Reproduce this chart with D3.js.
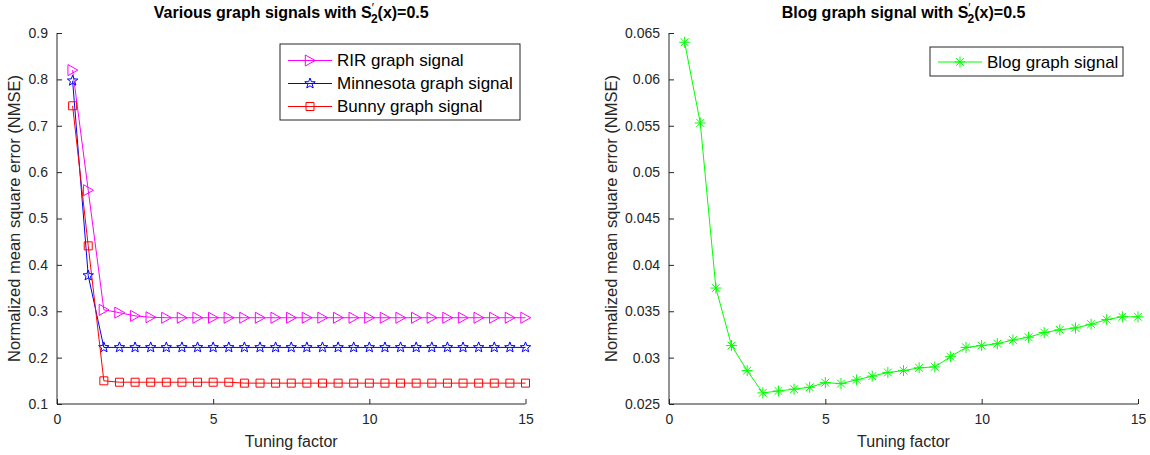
<!DOCTYPE html>
<html>
<head>
<meta charset="utf-8">
<script src="https://cdn.jsdelivr.net/npm/d3@7"></script>
<style>
  html, body { margin: 0; padding: 0; background: #fff; }
  svg { display: block; font-family: "Liberation Sans", Arial, Helvetica, sans-serif; }
</style>
</head>
<body>
<svg id="chart" width="1150" height="455"></svg>
<script>
// ---------------- data ----------------
const tuningFactor = [0.5, 1, 1.5, 2, 2.5, 3, 3.5, 4, 4.5, 5, 5.5, 6, 6.5, 7, 7.5, 8, 8.5, 9, 9.5, 10, 10.5, 11, 11.5, 12, 12.5, 13, 13.5, 14, 14.5, 15];

const rirNMSE = [0.820, 0.561, 0.303, 0.297, 0.290, 0.287, 0.286, 0.286, 0.286, 0.286,
                 0.286, 0.286, 0.286, 0.286, 0.286, 0.286, 0.286, 0.286, 0.286, 0.286,
                 0.286, 0.286, 0.286, 0.286, 0.286, 0.286, 0.286, 0.286, 0.286, 0.286];
const minnesotaNMSE = [0.797, 0.377, 0.222, 0.222, 0.222, 0.222, 0.222, 0.222, 0.222, 0.222,
                       0.222, 0.222, 0.222, 0.222, 0.222, 0.222, 0.222, 0.222, 0.222, 0.222,
                       0.222, 0.222, 0.222, 0.222, 0.222, 0.222, 0.222, 0.222, 0.222, 0.222];
const bunnyNMSE = [0.743, 0.441, 0.150, 0.147, 0.147, 0.147, 0.147, 0.147, 0.147, 0.147,
                   0.147, 0.145, 0.145, 0.145, 0.145, 0.145, 0.145, 0.145, 0.145, 0.145,
                   0.145, 0.145, 0.145, 0.145, 0.145, 0.145, 0.145, 0.145, 0.145, 0.145];
const blogNMSE = [0.0640, 0.0553, 0.0375, 0.0313, 0.0286, 0.0262, 0.0264, 0.0266, 0.0268, 0.0273,
                  0.0272, 0.0276, 0.0280, 0.0284, 0.0286, 0.0289, 0.0290, 0.0301, 0.0311, 0.0313,
                  0.0315, 0.0319, 0.0322, 0.0327, 0.0330, 0.0332, 0.0336, 0.0341, 0.0344, 0.0344];

const xTicks = [0, 5, 10, 15];
const leftYTicks = [0.1, 0.2, 0.3, 0.4, 0.5, 0.6, 0.7, 0.8, 0.9];
const rightYTicks = [0.025, 0.03, 0.035, 0.04, 0.045, 0.05, 0.055, 0.06, 0.065];

const leftTitle = "Various graph signals with ";
const rightTitle = "Blog graph signal with ";
const xLabel = "Tuning factor";
const yLabel = "Normalized mean square error (NMSE)";

// ---------------- drawing ----------------
const svg = d3.select("#chart");
const axisColor = "#262626";

// marker shapes
function markerPath(type, s) {
  const h = s / 2;
  if (type === "triRight") {
    return `M${-h * 0.85},${-h}L${h * 0.95},0L${-h * 0.85},${h}Z`;
  }
  if (type === "square") {
    return `M${-h},${-h}H${h}V${h}H${-h}Z`;
  }
  if (type === "star") {
    const pts = [];
    for (let i = 0; i < 10; i++) {
      const r = i % 2 === 0 ? h : h * 0.42;
      const a = -Math.PI / 2 + i * Math.PI / 5;
      pts.push([r * Math.cos(a), r * Math.sin(a)]);
    }
    return "M" + pts.map(p => p[0].toFixed(2) + "," + p[1].toFixed(2)).join("L") + "Z";
  }
  if (type === "asterisk") {
    let d = "";
    for (let i = 0; i < 4; i++) {
      const a = i * Math.PI / 4;
      const dx = h * Math.cos(a), dy = h * Math.sin(a);
      d += `M${(-dx).toFixed(2)},${(-dy).toFixed(2)}L${dx.toFixed(2)},${dy.toFixed(2)}`;
    }
    return d;
  }
  return "";
}

function drawPanel(cfg) {
  const g = svg.append("g");
  const x = d3.scaleLinear().domain([0, 15]).range([cfg.x0, cfg.x1]);
  const y = d3.scaleLinear().domain(cfg.yDomain).range([cfg.yBottom, cfg.yTop]);

  // axes (MATLAB style: box off, ticks inward)
  const xAxis = d3.axisBottom(x).tickValues(xTicks).tickSizeInner(-5).tickSizeOuter(0).tickPadding(10)
    .tickFormat(d3.format("d"));
  const gx = g.append("g").attr("transform", `translate(0,${cfg.yBottom})`).call(xAxis);
  const yAxis = d3.axisLeft(y).tickValues(cfg.yTicks).tickSizeInner(-5).tickSizeOuter(0).tickPadding(9)
    .tickFormat(cfg.yFormat);
  const gy = g.append("g").attr("transform", `translate(${cfg.x0},0)`).call(yAxis);

  [gx, gy].forEach(ax => {
    ax.select(".domain").attr("stroke", axisColor).attr("stroke-width", 1);
    ax.selectAll(".tick line").attr("stroke", axisColor).attr("stroke-width", 1);
    ax.selectAll(".tick text").attr("fill", axisColor).style("font-size", "14px")
      .style("font-family", "Liberation Sans, Arial, sans-serif");
  });
  gx.select(".domain").attr("d", `M${cfg.x0},0H${cfg.x1}`);
  gy.select(".domain").attr("d", `M0,${cfg.yTop}V${cfg.yBottom}`);
  gx.selectAll(".tick text").attr("dy", "0.71em");

  // labels
  g.append("text").attr("x", (cfg.x0 + cfg.x1) / 2).attr("y", 447)
    .attr("text-anchor", "middle").attr("fill", axisColor).style("font-size", "16px").text(xLabel);
  g.append("text")
    .attr("transform", `translate(${cfg.yLabelX},${(cfg.yTop + cfg.yBottom) / 2}) rotate(-90)`)
    .attr("text-anchor", "middle").attr("fill", axisColor).style("font-size", "16.5px").text(yLabel);

  // title with S'_2(x)=0.5
  const t = g.append("text").attr("x", (cfg.x0 + cfg.x1) / 2).attr("y", 18)
    .attr("text-anchor", "middle").attr("fill", "#000").style("font-size", "16px")
    .style("font-weight", "bold");
  t.append("tspan").text(cfg.title + "S");
  t.append("tspan").attr("dy", -6).style("font-size", "12px").style("font-weight", "normal").text("\u2032");
  t.append("tspan").attr("dx", -3).attr("dy", 11).style("font-size", "12px").text("2");
  t.append("tspan").attr("dy", -5).text("(x)=0.5");

  // series
  const line = d3.line().x((d, i) => x(tuningFactor[i])).y(d => y(d));
  cfg.series.forEach(s => {
    g.append("path").datum(s.values).attr("d", line)
      .attr("fill", "none").attr("stroke", s.color).attr("stroke-width", 1);
    g.selectAll(null).data(s.values).enter().append("path")
      .attr("transform", (d, i) => `translate(${x(tuningFactor[i])},${y(d)})`)
      .attr("d", markerPath(s.marker, s.size))
      .attr("fill", "none").attr("stroke", s.color).attr("stroke-width", 1);
  });

  // legend
  const L = cfg.legend;
  const lg = g.append("g");
  lg.append("rect").attr("x", L.x).attr("y", L.y).attr("width", L.w).attr("height", L.h)
    .attr("fill", "#fff").attr("stroke", axisColor).attr("stroke-width", 1);
  cfg.series.forEach((s, i) => {
    const cy = L.y + L.firstRow + i * L.rowGap;
    lg.append("line").attr("x1", L.x + 8).attr("x2", L.x + 52).attr("y1", cy).attr("y2", cy)
      .attr("stroke", s.color).attr("stroke-width", 1);
    lg.append("path").attr("transform", `translate(${L.x + 30},${cy})`)
      .attr("d", markerPath(s.marker, s.size)).attr("fill", "none")
      .attr("stroke", s.color).attr("stroke-width", 1);
    lg.append("text").attr("x", L.x + 57).attr("y", cy).attr("dy", "0.35em")
      .attr("fill", "#000").style("font-size", "17px").text(s.name);
  });
}

drawPanel({
  x0: 57, x1: 525.5, yTop: 33, yBottom: 404,
  yDomain: [0.1, 0.9], yTicks: leftYTicks, yFormat: d3.format(".1f"),
  yLabelX: 20,
  title: leftTitle,
  series: [
    { name: "RIR graph signal", values: rirNMSE, color: "#ff00ff", marker: "triRight", size: 11 },
    { name: "Minnesota graph signal", values: minnesotaNMSE, color: "#0000ff", marker: "star", size: 11 },
    { name: "Bunny graph signal", values: bunnyNMSE, color: "#ff0000", marker: "square", size: 8 }
  ],
  legend: { x: 280, y: 44, w: 240, h: 76, firstRow: 16.5, rowGap: 23 }
});

drawPanel({
  x0: 669, x1: 1138, yTop: 33, yBottom: 404,
  yDomain: [0.025, 0.065], yTicks: rightYTicks, yFormat: d => d3.format(".3~f")(d),
  yLabelX: 617,
  title: rightTitle,
  series: [
    { name: "Blog graph signal", values: blogNMSE, color: "#00ff00", marker: "asterisk", size: 11 }
  ],
  legend: { x: 930, y: 47, w: 193, h: 29, firstRow: 15, rowGap: 23 }
});
</script>
</body>
</html>
